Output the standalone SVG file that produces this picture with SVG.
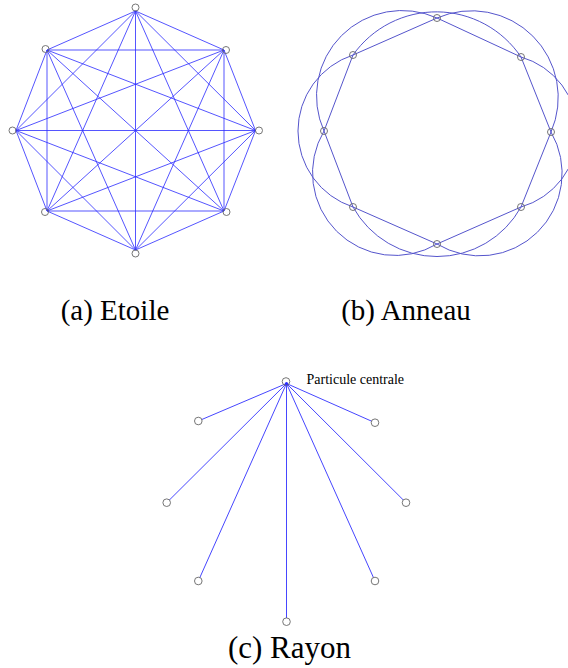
<svg xmlns="http://www.w3.org/2000/svg" width="568" height="668" viewBox="0 0 568 668">
<style>
.se{stroke:#2a2aff;stroke-width:1;stroke-opacity:0.8;fill:none}
.re{stroke:#5555cc;stroke-width:1;fill:none}
.ye{stroke:#4646ff;stroke-width:1;fill:none}
.nd{fill:none;stroke:#666;stroke-width:0.9}
.nw{fill:#fff;stroke:#666;stroke-width:0.9}
</style>
<rect x="0" y="0" width="568" height="668" fill="#fff"/>

<!-- (a) Etoile -->
<g id="star-connectors">
<line class="se" x1="135.5" y1="11" x2="224" y2="50"/>
<line class="se" x1="135.5" y1="11" x2="255.5" y2="130.5"/>
<line class="se" x1="135.5" y1="11" x2="224" y2="211"/>
<line class="se" x1="135.5" y1="11" x2="135.5" y2="250"/>
<line class="se" x1="135.5" y1="11" x2="47" y2="211"/>
<line class="se" x1="135.5" y1="11" x2="16" y2="130.5"/>
<line class="se" x1="135.5" y1="11" x2="47" y2="50"/>
<line class="se" x1="224" y1="50" x2="255.5" y2="130.5"/>
<line class="se" x1="224" y1="50" x2="224" y2="211"/>
<line class="se" x1="224" y1="50" x2="135.5" y2="250"/>
<line class="se" x1="224" y1="50" x2="47" y2="211"/>
<line class="se" x1="224" y1="50" x2="16" y2="130.5"/>
<line class="se" x1="224" y1="50" x2="47" y2="50"/>
<line class="se" x1="255.5" y1="130.5" x2="224" y2="211"/>
<line class="se" x1="255.5" y1="130.5" x2="135.5" y2="250"/>
<line class="se" x1="255.5" y1="130.5" x2="47" y2="211"/>
<line class="se" x1="255.5" y1="130.5" x2="16" y2="130.5"/>
<line class="se" x1="255.5" y1="130.5" x2="47" y2="50"/>
<line class="se" x1="224" y1="211" x2="135.5" y2="250"/>
<line class="se" x1="224" y1="211" x2="47" y2="211"/>
<line class="se" x1="224" y1="211" x2="16" y2="130.5"/>
<line class="se" x1="224" y1="211" x2="47" y2="50"/>
<line class="se" x1="135.5" y1="250" x2="47" y2="211"/>
<line class="se" x1="135.5" y1="250" x2="16" y2="130.5"/>
<line class="se" x1="135.5" y1="250" x2="47" y2="50"/>
<line class="se" x1="47" y1="211" x2="16" y2="130.5"/>
<line class="se" x1="47" y1="211" x2="47" y2="50"/>
<line class="se" x1="16" y1="130.5" x2="47" y2="50"/>
</g>
<g id="star-n0"><circle class="nd" cx="135.5" cy="7.5" r="3.5"/></g>
<g id="star-n1"><circle class="nd" cx="226" cy="50" r="3.5"/></g>
<g id="star-n2"><circle class="nd" cx="259" cy="130.5" r="3.5"/></g>
<g id="star-n3"><circle class="nd" cx="226.5" cy="212" r="3.5"/></g>
<g id="star-n4"><circle class="nd" cx="135.5" cy="253.5" r="3.5"/></g>
<g id="star-n5"><circle class="nd" cx="45" cy="212" r="3.5"/></g>
<g id="star-n6"><circle class="nd" cx="12.5" cy="130.5" r="3.5"/></g>
<g id="star-n7"><circle class="nd" cx="45.5" cy="49" r="3.5"/></g>
<text x="115" y="320" text-anchor="middle" font-family="'Liberation Serif', 'Times New Roman', serif" font-size="29" fill="#000">(a) Etoile</text>

<!-- (b) Anneau -->
<g id="ring-connectors">
<polygon class="re" points="437,18 521,57 551,132 521,207 437,244 353,207 324,131 353,55"/>
<path class="re" d="M353,55 A102,102 0 0 1 521,57"/>
<path class="re" d="M521,57 A78,78 0 0 1 521,207"/>
<path class="re" d="M521,207 A96,96 0 0 1 353,207"/>
<path class="re" d="M353,207 A80,80 0 0 1 353,55"/>
<path class="re" d="M437,18 A86.6,86.6 0 0 1 551,132"/>
<path class="re" d="M551,132 A82.5,82.5 0 0 1 437,244"/>
<path class="re" d="M437,244 A82.5,82.5 0 0 1 324,131"/>
<path class="re" d="M324,131 A85.5,85.5 0 0 1 437,18"/>
</g>
<g id="ring-n0"><circle class="nd" cx="437" cy="18" r="3.5"/></g>
<g id="ring-n1"><circle class="nd" cx="521" cy="57" r="3.5"/></g>
<g id="ring-n2"><circle class="nd" cx="551" cy="132" r="3.5"/></g>
<g id="ring-n3"><circle class="nd" cx="521" cy="207" r="3.5"/></g>
<g id="ring-n4"><circle class="nd" cx="437" cy="244" r="3.5"/></g>
<g id="ring-n5"><circle class="nd" cx="353" cy="207" r="3.5"/></g>
<g id="ring-n6"><circle class="nd" cx="324" cy="131" r="3.5"/></g>
<g id="ring-n7"><circle class="nd" cx="353" cy="55" r="3.5"/></g>
<text x="406" y="320" text-anchor="middle" font-family="'Liberation Serif', 'Times New Roman', serif" font-size="29" fill="#000">(b) Anneau</text>

<!-- (c) Rayon -->
<g id="ray-connectors">
<line class="ye" x1="286.5" y1="383.5" x2="198.3" y2="421"/>
<line class="ye" x1="286.5" y1="383.5" x2="375" y2="422.7"/>
<line class="ye" x1="286.5" y1="383.5" x2="166.7" y2="502.7"/>
<line class="ye" x1="286.5" y1="383.5" x2="406" y2="502.7"/>
<line class="ye" x1="286.5" y1="383.5" x2="198.3" y2="581"/>
<line class="ye" x1="286.5" y1="383.5" x2="375" y2="581"/>
<line class="ye" x1="286.5" y1="383.5" x2="286.5" y2="621.7"/>
</g>
<g id="ray-center">
<circle class="nd" cx="286" cy="381.5" r="3.8"/>
<circle cx="286.5" cy="383.5" r="1.6" fill="#2a2aff"/>
<text x="306.5" y="384" font-family="'Liberation Serif', 'Times New Roman', serif" font-size="14" fill="#000">Particule centrale</text>
</g>
<g id="ray-n1"><circle class="nw" cx="198.3" cy="421" r="3.8"/></g>
<g id="ray-n2"><circle class="nw" cx="375" cy="422.7" r="3.8"/></g>
<g id="ray-n3"><circle class="nw" cx="166.7" cy="502.7" r="3.8"/></g>
<g id="ray-n4"><circle class="nw" cx="406" cy="502.7" r="3.8"/></g>
<g id="ray-n5"><circle class="nw" cx="198.3" cy="581" r="3.8"/></g>
<g id="ray-n6"><circle class="nw" cx="375" cy="581" r="3.8"/></g>
<g id="ray-n7"><circle class="nw" cx="286.5" cy="621.7" r="3.8"/></g>
<text x="289.5" y="658" text-anchor="middle" font-family="'Liberation Serif', 'Times New Roman', serif" font-size="31" fill="#000">(c) Rayon</text>
</svg>
